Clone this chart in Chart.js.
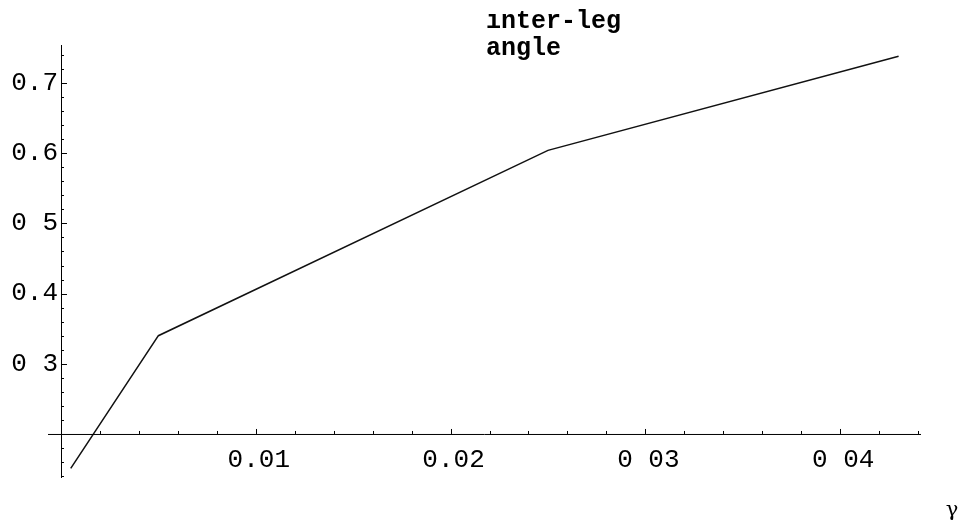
<!DOCTYPE html>
<html>
<head>
<meta charset="utf-8">
<title>inter-leg angle</title>
<script src="https://cdn.jsdelivr.net/npm/chart.js@4.4.1/dist/chart.umd.min.js"></script>
<style>
  html, body { margin: 0; padding: 0; background: #fff; }
  #wrap { width: 958px; height: 528px; }
</style>
</head>
<body>
<div id="wrap"><canvas id="chart" width="958" height="528"></canvas></div>
<script>
// data
const gammaValues = [0.0005, 0.005, 0.025, 0.043];
const angleValues = [0.151, 0.340, 0.604, 0.738];

// axis ticks (labels as printed, some dots lost in the scan)
const xTickValues = [0.01, 0.02, 0.03, 0.04];
const xTickLabels = ['0.01', '0.02', '0 03', '0 04'];
const yTickValues = [0.3, 0.4, 0.5, 0.6, 0.7];
const yTickLabels = ['0 3', '0.4', '0 5', '0.6', '0.7'];
const titleLines = ['ınter-leg', 'angle'];
const xAxisTitle = 'γ';

const originX = 0;
const originY = 0.2;

const points = gammaValues.map((g, i) => ({ x: g, y: angleValues[i] }));

// hand-drawn axes in the Mathematica style, positioned with the chart's scales
const axesPlugin = {
  id: 'mmaAxes',
  afterDraw(chart){
    const ctx = chart.ctx;
    const xs = chart.scales.x, ys = chart.scales.y;
    const area = chart.chartArea;
    const ax = xs.getPixelForValue(originX);
    const ay = ys.getPixelForValue(originY);
    ctx.save();
    ctx.strokeStyle = '#000';
    ctx.lineWidth = 1;
    // axis lines
    ctx.beginPath();
    ctx.moveTo(area.left, ay + 0.5); ctx.lineTo(area.right, ay + 0.5);
    ctx.moveTo(Math.round(ax) + 0.5, area.top); ctx.lineTo(Math.round(ax) + 0.5, area.bottom);
    ctx.stroke();

    // x ticks (pointing up)
    ctx.beginPath();
    for(let k = 1; k <= 22; k++){
      const v = k * 0.002;
      const px = Math.round(xs.getPixelForValue(v)) + 0.5;
      const major = k % 5 === 0;
      ctx.moveTo(px, ay); ctx.lineTo(px, ay - (major ? 5 : 3));
    }
    // y ticks (pointing right)
    for(let k = 7; k <= 37; k++){
      const v = k * 0.02;
      if(Math.abs(v - originY) < 1e-9) continue;
      const py = Math.round(ys.getPixelForValue(v)) + 0.5;
      const major = k % 5 === 0;
      ctx.moveTo(ax, py); ctx.lineTo(ax + (major ? 6 : 3), py);
    }
    ctx.stroke();

    // tick labels
    ctx.fillStyle = '#000';
    ctx.font = '26px "Liberation Mono", monospace';
    ctx.textAlign = 'center';
    ctx.textBaseline = 'middle';
    xTickValues.forEach((v, i) => {
      ctx.fillText(xTickLabels[i], xs.getPixelForValue(v) + 3, ay + 26);
    });
    ctx.textAlign = 'right';
    yTickValues.forEach((v, i) => {
      ctx.fillText(yTickLabels[i], ax - 3, ys.getPixelForValue(v));
    });

    // axis label (top) and gamma
    ctx.font = 'bold 25px "Liberation Mono", monospace';
    ctx.textAlign = 'left';
    ctx.textBaseline = 'alphabetic';
    titleLines.forEach((t, i) => ctx.fillText(t, 486, 28 + i * 27));
    ctx.font = '21px "DejaVu Serif", serif';
    ctx.textAlign = 'center';
    ctx.fillText(xAxisTitle, 952, 516);
    ctx.restore();
  }
};

new Chart(document.getElementById('chart'), {
  type: 'scatter',
  data: {
    datasets: [{
      data: points,
      showLine: true,
      borderColor: '#111',
      borderWidth: 1.5,
      pointRadius: 0,
      tension: 0,
      fill: false
    }]
  },
  options: {
    responsive: false,
    animation: false,
    devicePixelRatio: 1,
    layout: { padding: { left: 48, right: 37, top: 45, bottom: 50 } },
    scales: {
      x: { type: 'linear', display: false, min: -0.000667, max: 0.04415 },
      y: { type: 'linear', display: false, min: 0.1373, max: 0.7541 }
    },
    plugins: { legend: { display: false }, tooltip: { enabled: false } }
  },
  plugins: [axesPlugin]
});
</script>
</body>
</html>
